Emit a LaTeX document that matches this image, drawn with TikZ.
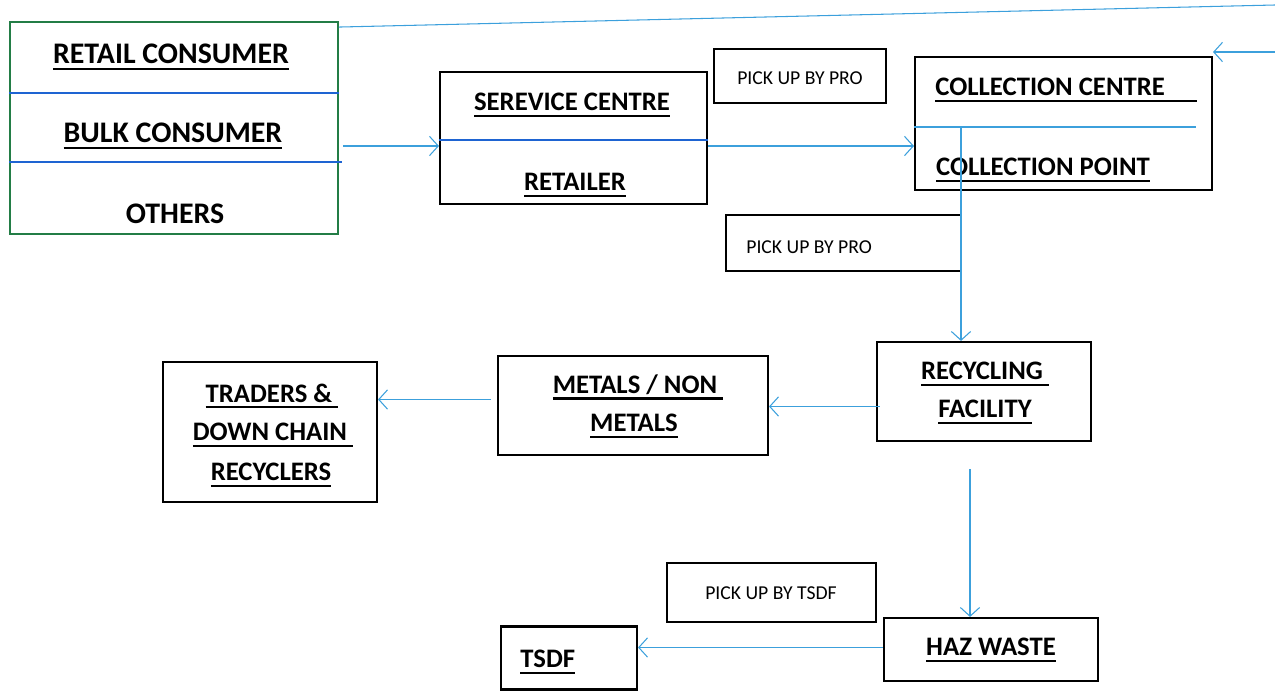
\documentclass[tikz,border=0pt]{standalone}
\usepackage{fontspec}
\setmainfont{Carlito}
\usetikzlibrary{arrows.meta,calc}
\definecolor{conn}{RGB}{60,160,220}
\definecolor{divblue}{RGB}{30,100,210}
\definecolor{boxgreen}{RGB}{35,125,70}
\newcommand\myul[1]{\leavevmode\setbox0\hbox{#1}\rlap{\rule[-3.6pt]{\wd0}{1.2pt}}\box0}
\tikzset{
  box/.style={draw=black,line width=1.2pt,inner sep=0pt},
  gbox/.style={draw=boxgreen,line width=1.1pt,inner sep=0pt},
  lbl/.style={inner sep=0pt,font=\fontsize{15.2}{18}\selectfont\bfseries},
  glbl/.style={inner sep=0pt,font=\fontsize{17}{20}\selectfont\bfseries},
  small/.style={inner sep=0pt,font=\fontsize{11.2}{13}\selectfont},
  divline/.style={draw=divblue,line width=0.9pt},
  cline/.style={draw=conn,line width=0.6pt},
  arr/.style={cline,-{Straight Barb[length=5pt,width=11pt,line width=0.6pt]}}
}
\begin{document}
\begin{tikzpicture}[x=0.02cm,y=-0.02cm]
\useasboundingbox (0,0) rectangle (1275,692);
% boxes
\node[gbox,minimum width=6.56cm,minimum height=4.24cm] (green) at (174,128) {};
\node[box,minimum width=5.34cm,minimum height=2.64cm] (serv) at (573.5,138) {};
\node[box,minimum width=3.44cm,minimum height=1.08cm] (pick1) at (800,76) {};
\node[box,minimum width=5.94cm,minimum height=2.66cm] (coll) at (1063.5,123.5) {};
\node[box,minimum width=4.70cm,minimum height=1.12cm] (pick2) at (843.5,243) {};
\node[box,minimum width=4.28cm,minimum height=1.98cm] (recyc) at (984,391.5) {};
\node[box,minimum width=5.40cm,minimum height=1.98cm] (metals) at (633,405.5) {};
\node[box,minimum width=4.28cm,minimum height=2.80cm] (traders) at (270,432) {};
\node[box,minimum width=4.28cm,minimum height=1.26cm] (haz) at (991,649.5) {};
\node[box,minimum width=4.18cm,minimum height=1.18cm] (pickt) at (771.5,592.5) {};
\node[box,minimum width=2.72cm,minimum height=1.26cm] (tsdf) at (569,658) {};
% dividers
\draw[divline] (green.west |- 0,93) -- (green.east |- 0,93);
\draw[divline] (green.west |- 0,162) -- ($(green.east |- 0,162)+(3,0)$);
\draw[divline] (serv.west |- 0,140) -- (serv.east |- 0,140);
\coordinate (cdivend) at (1196,127);
\draw[cline] (coll.west |- cdivend) -- (cdivend);
% texts
\node[glbl] (t1) at (171,57) {\myul{RETAIL CONSUMER}};
\node[glbl] (t2) at (173,136) {\myul{BULK CONSUMER}};
\node[glbl] (t3) at (175,214) {OTHERS};
\node[lbl] (t4) at (572,105) {\myul{SEREVICE CENTRE}};
\node[lbl] (t5) at (575,185) {\myul{RETAILER}};
\node[small] (t6) at (800,78) {PICK UP BY PRO};
\node[lbl,anchor=west] (t7) at (935,90) {\myul{COLLECTION CENTRE\hspace{1.2em}}};
\node[lbl] (t8) at (1043,170) {\myul{COLLECTION POINT}};
\node[small,anchor=west] (t9) at (746,247) {PICK UP BY PRO};
\node[lbl] (t10) at (985,374) {\myul{RECYCLING\ }};
\node[lbl] (t11) at (985,412) {\myul{FACILITY}};
\node[lbl] (t12) at (638,387) {\myul{METALS / NON\ }};
\node[lbl] (t13) at (634,426) {\myul{METALS}};
\node[lbl] (t14) at (272,396) {\myul{TRADERS \&\ }};
\node[lbl] (t15) at (273,435) {\myul{DOWN CHAIN\ }};
\node[lbl] (t16) at (271,475) {\myul{RECYCLERS}};
\node[lbl] (t17) at (991,650) {\myul{HAZ WASTE}};
\node[small] (t18) at (771,593) {PICK UP BY TSDF};
\node[lbl,anchor=west] (t19) at (520,662) {\myul{TSDF}};
% connectors
\coordinate (topend) at (1275,5);
\draw[cline] ($(green.north east)+(0,6)$) -- (topend);
\coordinate (retin) at (1275,52);
\draw[arr] (retin) -- (retin -| coll.east);
\coordinate (a1) at ($(green.east)+(4,18)$);
\draw[arr] (a1) -- (a1 -| serv.west);
\coordinate (a2) at ($(serv.east)+(0,8)$);
\draw[arr] (a2) -- (a2 -| coll.west);
\coordinate (vstart) at (961,127);
\draw[arr] (vstart) -- (vstart |- recyc.north);
\coordinate (a3) at ($(recyc.west)+(4,15)$);
\draw[arr] (a3) -- (a3 -| metals.east);
\coordinate (a4) at ($(metals.west)+(-6,-6)$);
\draw[arr] (a4) -- (a4 -| traders.east);
\coordinate (a5) at ($(recyc.south)+(-14,27)$);
\draw[arr] (a5) -- (a5 |- haz.north);
\coordinate (a6) at ($(haz.west)+(0,-2)$);
\draw[arr] (a6) -- (a6 -| tsdf.east);
\end{tikzpicture}
\end{document}
